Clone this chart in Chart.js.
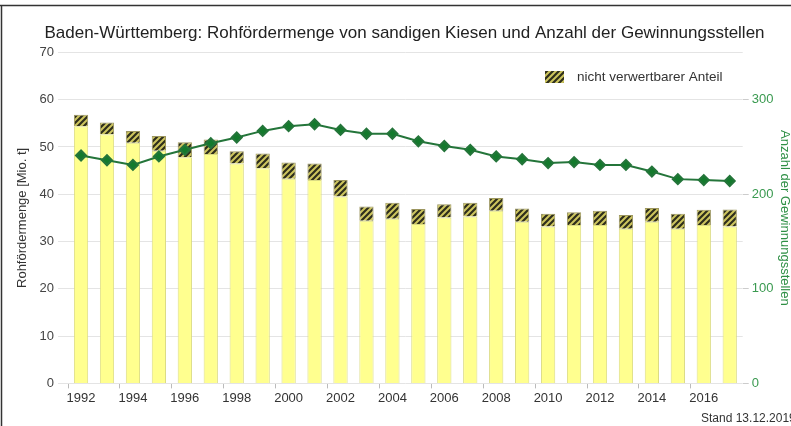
<!DOCTYPE html>
<html>
<head>
<meta charset="utf-8">
<script src="https://cdn.jsdelivr.net/npm/chart.js@4"></script>
<style>
  html, body { margin: 0; padding: 0; background: #fff; }
  #wrap { position: relative; width: 791px; height: 426px; }
</style>
</head>
<body>
<div id="wrap"><canvas id="myChart" width="791" height="426"></canvas></div>
<script>
/****data*****/
const years = ['1992','1993','1994','1995','1996','1997','1998','1999','2000','2001','2002','2003','2004',
  '2005','2006','2007','2008','2009','2010','2011','2012','2013','2014','2015','2016','2017'];
const verwertbar = [54.4, 52.7, 50.9, 49.2, 47.8, 48.5, 46.5, 45.5, 43.3, 43.0, 39.5, 34.4, 34.8,
  33.7, 35.1, 35.3, 36.5, 34.2, 33.2, 33.5, 33.5, 32.7, 34.2, 32.7, 33.5, 33.2];
const nichtVerwertbar = [2.4, 2.5, 2.5, 3.1, 3.2, 3.1, 2.6, 3.1, 3.4, 3.5, 3.5, 3.0, 3.4,
  3.2, 2.8, 2.9, 2.7, 2.8, 2.7, 2.7, 3.0, 2.9, 2.9, 3.2, 3.2, 3.6];
const gewinnungsstellen = [241, 236, 231, 240, 247, 254, 260, 267, 272, 274, 268, 264, 264,
  256, 251, 247, 240, 237, 233, 234, 231, 231, 224, 216, 215, 214];
const leftTicks = [0, 10, 20, 30, 40, 50, 60, 70];
const rightTicks = [0, 100, 200, 300];
/*****************/

// hatch pattern for the non usable share
function makeHatch() {
  const c = document.createElement('canvas');
  c.width = 6; c.height = 6;
  const g = c.getContext('2d');
  g.fillStyle = '#cdc55e';
  g.fillRect(0, 0, 6, 6);
  g.strokeStyle = '#2e2e1c';
  g.lineWidth = 2.2;
  g.beginPath();
  g.moveTo(-1, 7); g.lineTo(7, -1);
  g.moveTo(-4, 4); g.lineTo(4, -4);
  g.moveTo(2, 10); g.lineTo(10, 2);
  g.stroke();
  return document.getElementById('myChart').getContext('2d').createPattern(c, 'repeat');
}
const hatch = makeHatch();

const extras = {
  id: 'extras',
  afterDraw(chart) {
    const ctx = chart.ctx;
    ctx.save();
    // frame
    ctx.strokeStyle = '#333';
    ctx.lineWidth = 1.5;
    ctx.beginPath();
    ctx.moveTo(0, 5.5); ctx.lineTo(791, 5.5);
    ctx.moveTo(1.5, 5); ctx.lineTo(1.5, 426);
    ctx.stroke();
    // legend in plot
    ctx.fillStyle = hatch;
    ctx.fillRect(545, 71, 19, 12);
    ctx.fillStyle = '#333';
    ctx.font = '13.5px "Liberation Sans", Arial, sans-serif';
    ctx.textBaseline = 'middle';
    ctx.fillText('nicht verwertbarer Anteil', 577, 77);
    // stamp
    ctx.font = '12px "Liberation Sans", Arial, sans-serif';
    ctx.fillText('Stand 13.12.2019', 701, 419);
    ctx.restore();
  }
};

const config = {
  type: 'bar',
  data: {
    labels: years,
    datasets: [
      {
        type: 'line',
        label: 'Anzahl der Gewinnungsstellen',
        data: gewinnungsstellen,
        yAxisID: 'y1',
        borderColor: '#24753a',
        backgroundColor: '#137a2c',
        borderWidth: 2,
        pointStyle: 'rectRot',
        pointRadius: 5,
        tension: 0,
        order: 0
      },
      {
        label: 'verwertbar',
        data: verwertbar,
        backgroundColor: '#ffff8f',
        borderColor: '#dcdc84',
        borderWidth: 1,
        stack: 's',
        order: 1
      },
      {
        label: 'nicht verwertbarer Anteil',
        data: nichtVerwertbar,
        backgroundColor: hatch,
        borderColor: '#9c9660',
        borderWidth: 1,
        stack: 's',
        order: 1
      }
    ]
  },
  options: {
    responsive: false,
    animation: false,
    layout: { padding: { left: 15, right: -3, top: 0, bottom: 18 } },
    datasets: { bar: { categoryPercentage: 0.55, barPercentage: 1 } },
    plugins: {
      legend: { display: false },
      tooltip: { enabled: false },
      title: {
        display: true,
        text: 'Baden-Württemberg: Rohfördermenge von sandigen Kiesen und Anzahl der Gewinnungsstellen',
        color: '#222',
        font: { family: '"Liberation Sans", Arial, sans-serif', size: 17, weight: 'normal' },
        padding: { top: 23, bottom: 9 }
      }
    },
    scales: {
      x: {
        stacked: true,
        grid: {
          drawOnChartArea: false,
          tickLength: 5,
          color: (c) => (c.index % 2 === 0 ? '#bbb' : 'rgba(0,0,0,0)')
        },
        border: { display: false },
        ticks: {
          autoSkip: false,
          maxRotation: 0,
          color: '#333',
          font: { family: '"Liberation Sans", Arial, sans-serif', size: 13 },
          padding: 2,
          callback: function (v, i) { return i % 2 === 0 ? this.getLabelForValue(v) : ''; }
        }
      },
      y: {
        stacked: true,
        min: 0, max: 70,
        afterBuildTicks: (ax) => { ax.ticks = leftTicks.map(v => ({ value: v })); },
        grid: { color: '#e4e4e4', tickLength: 10 },
        border: { display: false },
        ticks: {
          color: '#444',
          font: { family: '"Liberation Sans", Arial, sans-serif', size: 13 },
          padding: 4
        },
        title: {
          display: true,
          text: 'Rohfördermenge [Mio. t]',
          color: '#333',
          font: { family: '"Liberation Sans", Arial, sans-serif', size: 13 },
          padding: { top: 0, bottom: 5 }
        }
      },
      y1: {
        position: 'right',
        min: 0, max: 350,
        afterBuildTicks: (ax) => { ax.ticks = rightTicks.map(v => ({ value: v })); },
        grid: { drawOnChartArea: false, color: '#ccc', tickLength: 6 },
        border: { display: false },
        ticks: {
          color: '#3a9a50',
          font: { family: '"Liberation Sans", Arial, sans-serif', size: 13 },
          padding: 3
        },
        title: {
          display: true,
          text: 'Anzahl der Gewinnungsstellen',
          color: '#2e8f45',
          font: { family: '"Liberation Sans", Arial, sans-serif', size: 13 },
          padding: { top: 2, bottom: 0 }
        }
      }
    }
  },
  plugins: [extras]
};

var myChart = new Chart(document.getElementById('myChart'), config);
</script>
</body>
</html>
